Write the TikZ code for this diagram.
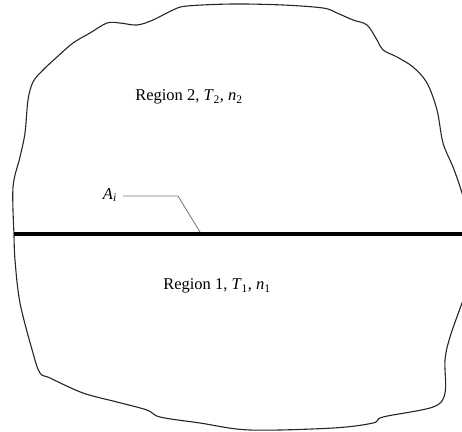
\documentclass[tikz,border=0pt]{standalone}
\usepackage{fontspec}
\setmainfont{Liberation Serif}
\begin{document}
\begin{tikzpicture}[x=1pt,y=-1pt,
  outline/.style={line width=1.1pt, black!85, line join=round},
  iface/.style={line width=3.3pt, black},
  leader/.style={line width=0.8pt, black!55},
  lbl/.style={font=\fontsize{16.5}{19}\selectfont, inner sep=0pt}]
\useasboundingbox (0,0) rectangle (462,431);
\begin{scope}
\clip (0,0) rectangle (462,431);
\draw[outline] plot[smooth, tension=0.55] coordinates {
 (14,234) (13,187) (20,157) (25,133) (28,100) (33,82) (43,70) (57,57) (73,43) (90,33)
 (107,23) (120,23) (137,25) (153,20) (173,10) (187,6) (233,4) (283,5) (323,8) (337,13)
 (353,20) (367,25) (377,40) (383,50) (397,57) (413,67) (427,83) (437,110) (443,143)
 (453,167) (462,193) (472,230) (474,270) (462,303) (450,337) (445,360) (445,393) (433,407)
 (383,417) (373,423) (333,428) (250,430) (200,423) (160,417) (147,410) (117,402) (83,393)
 (50,378) (40,373) (33,353) (20,303) (15,260) (14,234)};
\end{scope}
\coordinate (L) at (14,234);
\coordinate (R) at (462,234);
\draw[iface] (L) -- (R);
\node[lbl] (r2) at (189,97) {Region 2, \textit{T}\textsubscript{2}, \textit{n}\textsubscript{2}};
\node[lbl] (r1) at (217,286) {Region 1, \textit{T}\textsubscript{1}, \textit{n}\textsubscript{1}};
\node[lbl, anchor=east] (ai) at (117,195) {\textit{A}\textsubscript{\textit{i}}};
\coordinate (k) at (178,196);
\coordinate (t) at (200,232);
\draw[leader] (ai.east) ++(6,1) -- (k) -- (t);
\end{tikzpicture}
\end{document}
